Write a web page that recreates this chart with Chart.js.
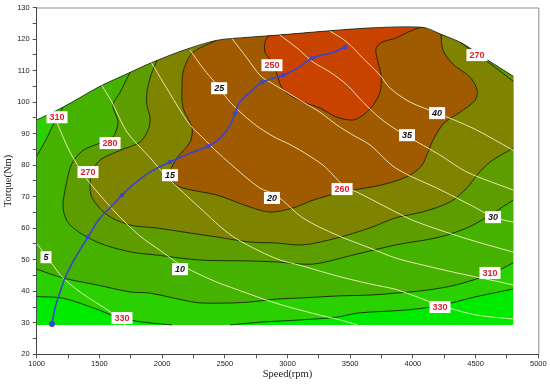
<!DOCTYPE html>
<html><head><meta charset="utf-8">
<script src="https://cdn.jsdelivr.net/npm/chart.js@4.4.1/dist/chart.umd.min.js"></script>
<style>html,body{margin:0;padding:0;background:#fff}</style>
</head><body>
<canvas id="c" width="550" height="384"></canvas>
<script>
// ---- data: [speed rpm, torque Nm] ----
const envelope = [[1000,94.3],[1210,98.4],[1505,105.0],[1744,109.4],[1904,112.3],[2167,116.4],[2438,119.6],[2702,120.6],[2909,121.2],[3300,122.5],[3650,123.5],[4080,123.7],[4224,121.5],[4391,118.7],[4598,113.3],[4800,108.2]];
const minTorque = 29.3;
const L1_310 = [[1000,82.8],[1080,88.5],[1130,92.7],[1210,98.4]];
const A_left_330 = [[1000,38.3],[1210,37.8],[1480,34.3],[1640,31.8],[1830,30.3],[2080,29.3]];
const A_right_330 = [[2543,29.3],[2782,30.2],[3101,30.9],[3396,31.8],[3563,33.1],[3962,34.1],[4233,35.6],[4496,38.2],[4800,40.7]];
const B_310 = [[1000,47],[1210,44.2],[1481,42],[1744,39.8],[1904,39.4],[2167,37.2],[2302,36.3],[2565,36.3],[2702,36.6],[2909,37.5],[3124,37.9],[3395,38.5],[3658,38.8],[3865,39.4],[4081,40.2],[4300,41.6],[4500,43.8],[4650,46],[4800,49]];
const C_280 = [[1744,109.4],[1665,103.1],[1608,99],[1648,93.6],[1608,88.9],[1505,87],[1370,84.7],[1282,80.6],[1242,75.2],[1210,66.4],[1266,61],[1481,55.6],[1744,52.5],[1951,51.5],[2302,49.9],[2702,49.6],[2909,49.3],[3204,48.6],[3523,51.5],[3865,54.7],[4216,57.2],[4480,61],[4800,68.9]];
const D_270 = [[1959,113.2],[1911,108.5],[1879,103.1],[1879,99],[1904,94.9],[1888,91.1],[1824,87.3],[1665,84.7],[1505,81.6],[1441,77.8],[1425,73.7],[1441,69.6],[1561,64.2],[1744,61],[1951,60.1],[2167,58.8],[2438,57.2],[2702,55.6],[2909,55.3],[3124,54.7],[3395,56.9],[3658,60.1],[3865,63.3],[4081,65.2],[4296,68.3],[4432,72.8],[4512,76.9],[4615,81],[4800,85.4]];
const G_270 = [[4380,118.9],[4500,115.4],[4650,111.2],[4800,106.6]];
const E_260 = [[2423,119.4],[2247,115.8],[2175,110.7],[2159,105.4],[2167,98.1],[2239,91.7],[2223,87.3],[2119,82.3],[2063,77.8],[2087,74.6],[2167,72.7],[2438,70.5],[2701,66.7],[2861,65.1],[3044,66.4],[3204,68.9],[3395,71.1],[3523,72.1],[3715,73.4],[3881,75.2],[3993,77.2],[4073,80],[4121,84.2],[4169,88.6],[4249,93.4],[4376,96.8],[4496,100.6],[4512,103.8],[4456,107.9],[4320,112],[4240,116.4],[4224,121.5]];
const F_250 = [[2845,121.0],[2821,119],[2821,115.8],[2877,112.6],[2909,109.5],[2957,104.4],[3021,102.2],[3124,100],[3259,98.1],[3395,95.2],[3523,94.3],[3602,95.8],[3682,99],[3738,103.1],[3746,108.5],[3714,113.9],[3706,117.1],[3754,119],[3865,120.3],[3961,122.2],[4057,123.7]];

const W5 = [[1000,55.2],[1106,49.6],[1210,44.2],[1345,39.8],[1481,36.2],[1585,33.5],[1705,29.3]];
const W10 = [[1130,96.8],[1170,92.7],[1266,84.1],[1393,75.9],[1505,70.5],[1640,64.5],[1824,57.5],[1983,53],[2143,48.5],[2400,43.5],[2600,40.5],[2900,36.3],[3200,33],[3420,30.9],[3560,29.3]];
const W15 = [[1520,105.2],[1600,100],[1720,90.5],[1900,82.5],[2040,76.2],[2300,66.5],[2560,57.5],[2900,50.5],[3120,48],[3400,44.8],[3660,42.3],[3870,40.5],[4220,35.5],[4500,32.5],[4800,31.2]];
const W20 = [[1915,112.5],[2008,106.3],[2119,99],[2223,92.7],[2327,88.6],[2438,84.2],[2646,76.9],[2781,72.7],[2909,70.5],[3124,63.2],[3395,57.8],[3658,53.7],[3865,50.5],[4081,48.3],[4352,45.8],[4615,43.6],[4800,42]];
const W25 = [[2223,116.5],[2327,110.7],[2438,105.4],[2542,100],[2678,94.9],[2781,91.7],[2909,88.6],[2997,87],[3124,84.2],[3283,80],[3363,76.9],[3443,73.7],[3602,70.5],[3865,65.1],[4016,62.2],[4400,57],[4800,52.4]];
const W30 = [[2558,120.1],[2678,113.9],[2781,108.5],[2861,106.3],[2997,103.1],[3124,100],[3259,96.8],[3395,92.7],[3523,89.5],[3658,86.4],[3865,79],[4224,72.1],[4500,66.5],[4639,63.5],[4800,61.9]];
const W35 = [[2941,121.2],[3077,117.1],[3204,112.7],[3340,109.5],[3475,105.4],[3602,100],[3738,94.9],[3865,91.3],[3953,89.2],[4216,83.2],[4431,77.8],[4800,72.1]];
const W40 = [[3340,122.5],[3475,119],[3602,113.9],[3738,108.5],[3818,104.4],[3978,100],[4193,96.5],[4480,91.7],[4800,84.7]];

const operatingLine = [[1122,29.6],[1146,34.7],[1186,39.7],[1226,44.2],[1289,49.3],[1409,57.2],[1505,63.2],[1584,66.4],[1680,70.5],[1784,74.3],[1904,77.8],[2063,81],[2223,83.8],[2367,86],[2462,88.5],[2542,92.7],[2582,96.5],[2621,100],[2701,103.1],[2797,106.3],[2965,108.5],[3076,110.7],[3196,113.9],[3339,115.5],[3459,117.4]];
const operatingMarkers = [0,5,8,11,13,16,19,20,22,24];

const bsfcLabels = [['310',1162,95.2],['280',1585,87],['270',1409,77.8],['250',2876,111.7],['260',3435,72.4],['270',4511,114.9],['310',4615,45.8],['330',1680,31.5],['330',4216,35]];
const powerLabels = [['5',1074,50.8],['10',2143,47],['15',2063,76.8],['20',2876,69.6],['25',2455,104.4],['30',4639,63.5],['35',3953,89.5],['40',4193,96.5]];

const xTicksMajor = 500, xTicksMinor = 250, yTicksMajor = 10, yTicksMinor = 5;

// ---- build polygons from the arrays ----
const rev = a => a.slice().reverse();
const xy = a => a.map(p => ({x: p[0], y: p[1]}));
const first = a => a[0][0], last = a => a[a.length - 1][0];
const envIn = (lo, hi) => envelope.filter(p => p[0] > lo && p[0] < hi);

const polyB0 = [[first(envelope), minTorque], ...envelope, [last(envelope), minTorque]];
const polyB1 = [...envelope, ...rev(A_right_330), ...rev(A_left_330)];
const polyB2 = [...L1_310, ...envelope.filter(p => p[0] > last(L1_310)), ...rev(B_310)];
const polyB3 = [...C_280, ...rev(envelope.filter(p => p[0] > first(C_280)))];
const polyOlive = [...D_270, ...rev(G_270), ...rev(envIn(first(D_270), first(G_270)))];
const polyBrown = [...E_260, ...rev(envIn(first(E_260), last(E_260)))];
const polyRed = [...F_250, ...rev(envIn(first(F_250), last(F_250)))];

const fillDS = (poly, color, order) => ({data: xy(poly), fill: 'shape', backgroundColor: color, borderColor: 'rgba(0,0,0,0)', borderWidth: 0, pointRadius: 0, tension: 0, order});
const lineDS = (arr, color, width, order) => ({data: xy(arr), fill: false, borderColor: color, borderWidth: width, pointRadius: 0, tension: 0.3, order});

const CONTOUR = 'rgba(20,30,5,0.85)';
const WHITE = 'rgba(250,244,205,0.95)';
const BLUE = '#3a43d2';

const datasets = [
  fillDS(polyB0, '#00ea00', 20),
  fillDS(polyB1, '#2ad000', 19),
  fillDS(polyB2, '#45b200', 18),
  fillDS(polyB3, '#5d9d00', 17),
  fillDS(polyOlive, '#7e8300', 16),
  fillDS(polyBrown, '#a05a00', 15),
  fillDS(polyRed, '#c84200', 14),
  lineDS(envelope, 'rgba(30,30,30,0.8)', 1, 5),
  ...[L1_310, A_left_330, A_right_330, B_310, C_280, D_270, G_270, E_260, F_250].map(a => lineDS(a, CONTOUR, 1, 4)),
  ...[W5, W10, W15, W20, W25, W30, W35, W40].map(a => lineDS(a, WHITE, 0.9, 3)),
  {data: xy(operatingLine), fill: false, borderColor: BLUE, borderWidth: 1.6, tension: 0.3, order: 1,
   pointBackgroundColor: BLUE, pointBorderColor: BLUE, pointBorderWidth: 0,
   pointRadius: operatingLine.map((p, i) => i === 0 ? 3 : (operatingMarkers.includes(i) ? 2.2 : 0))}
];

const labelPlugin = {
  id: 'labels',
  afterDatasetsDraw(chart) {
    const {ctx, scales: {x, y}} = chart;
    ctx.save();
    ctx.textAlign = 'center'; ctx.textBaseline = 'middle';
    const draw = (list, font, color) => {
      ctx.font = font;
      list.forEach(([t, s, v]) => {
        const px = x.getPixelForValue(s), py = y.getPixelForValue(v);
        const w = ctx.measureText(t).width + 6, h = 12;
        ctx.fillStyle = '#ffffff';
        ctx.fillRect(px - w / 2, py - h / 2, w, h);
        ctx.fillStyle = color;
        ctx.fillText(t, px, py + 0.5);
      });
    };
    draw(bsfcLabels, 'bold 9px "Liberation Sans", Arial, sans-serif', '#e01e2c');
    draw(powerLabels, 'bold italic 9px "Liberation Sans", Arial, sans-serif', '#111');
    ctx.restore();
  },
  afterDraw(chart) {
    const {ctx, chartArea: a} = chart;
    ctx.save();
    ctx.strokeStyle = '#8a8a8a'; ctx.lineWidth = 1;
    ctx.beginPath();
    ctx.moveTo(a.left, a.top + 0.5); ctx.lineTo(a.right + 0.5, a.top + 0.5); ctx.lineTo(a.right + 0.5, a.bottom);
    ctx.stroke();
    ctx.restore();
  }
};

const tickFont = {family: '"Liberation Sans", Arial, sans-serif', size: 7.5};
const titleFont = {family: '"Liberation Serif", "Times New Roman", serif', size: 10.5};

new Chart(document.getElementById('c'), {
  type: 'line',
  data: {datasets},
  options: {
    responsive: false, animation: false, events: [],
    layout: {padding: {left: 0, right: 11.7, top: 7.3, bottom: 0}},
    plugins: {legend: {display: false}, tooltip: {enabled: false}},
    scales: {
      x: {type: 'linear', min: 1000, max: 5000,
        afterFit: s => { s.height = 29.7; },
        ticks: {stepSize: xTicksMinor, autoSkip: false, maxRotation: 0, padding: 1, color: '#222', font: tickFont,
          callback: v => (v % xTicksMajor === 0 ? v : '')},
        grid: {display: true, drawOnChartArea: false, drawTicks: true, tickLength: 4, color: '#555'},
        border: {display: true, color: '#444', width: 1},
        title: {display: true, text: 'Speed(rpm)', font: titleFont, color: '#222', padding: {top: 0, bottom: 3}}},
      y: {type: 'linear', min: 20, max: 130,
        afterFit: s => { s.width = 36.7; },
        ticks: {stepSize: yTicksMinor, autoSkip: false, padding: 3, color: '#222', font: tickFont,
          callback: v => (v % yTicksMajor === 0 ? v : '')},
        grid: {display: true, drawOnChartArea: false, drawTicks: true, tickLength: 4, color: '#555'},
        border: {display: true, color: '#444', width: 1},
        title: {display: true, text: 'Torque(Nm)', font: titleFont, color: '#222', padding: {top: 2, bottom: 0}}}
    }
  },
  plugins: [labelPlugin]
});
</script>
</body></html>
